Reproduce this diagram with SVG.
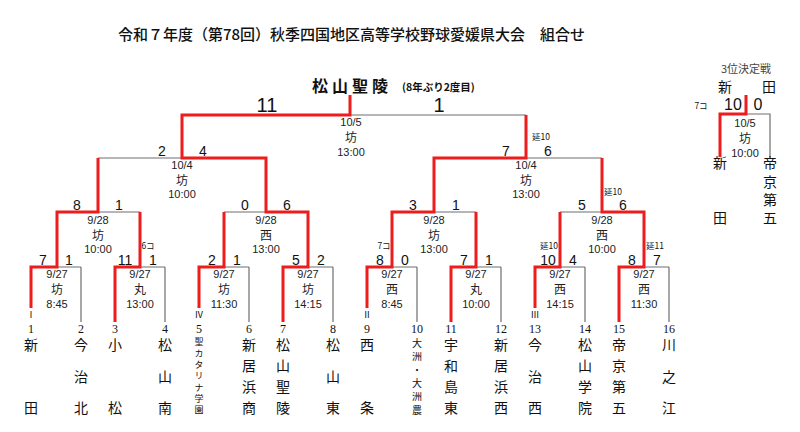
<svg xmlns="http://www.w3.org/2000/svg" width="800" height="432" viewBox="0 0 800 432">
<style>
.g{stroke:#6e6e6e;stroke-width:1.2;fill:none}
.r{stroke:#ee1c1c;stroke-width:3;fill:none;stroke-linejoin:miter;stroke-linecap:butt}
text{font-family:"Noto Sans CJK JP","Liberation Sans",sans-serif;fill:#111}
.title{font-size:15px;font-weight:500}
.champ{font-size:16px;font-weight:bold;letter-spacing:4px}
.sub{font-size:10.5px;font-weight:bold}
.v{writing-mode:vertical-rl;font-size:14px}
.v2{letter-spacing:49px}
.v3{letter-spacing:17.5px}
.v4{letter-spacing:7px}
.e{letter-spacing:0}
.sm9{writing-mode:vertical-rl;font-size:9px;letter-spacing:2.3px}
.sm10{writing-mode:vertical-rl;font-size:10px;letter-spacing:3.4px}
.nm{font-size:14px;text-anchor:middle}
.num{font-family:"Liberation Serif","Noto Sans CJK JP",serif;font-size:12px;text-anchor:middle}
.rom{font-family:"Liberation Serif","Noto Sans CJK JP",serif;font-size:9px;text-anchor:middle}
.sc{font-family:"Liberation Sans","Noto Sans CJK JP",sans-serif;font-size:14px;text-anchor:middle}
.scf{font-family:"Liberation Sans","Noto Sans CJK JP",sans-serif;font-size:20px;text-anchor:middle}
.sc3{font-family:"Liberation Sans","Noto Sans CJK JP",sans-serif;font-size:16px;text-anchor:middle}
.dt{font-family:"Liberation Sans","Noto Sans CJK JP",sans-serif;font-size:11px;text-anchor:middle;fill:#222}
.vn{font-family:"Noto Sans CJK JP",sans-serif;font-size:12px}
.note{font-size:8.5px;text-anchor:middle}
.lbl{font-size:11px;text-anchor:middle;fill:#444}
</style>

<text class="title" x="118" y="40">令和７年度（第78回）秋季四国地区高等学校野球愛媛県大会　組合せ</text>

<g id="champion">
<text class="champ" x="312" y="92">松山聖陵</text>
<text class="sub" x="402" y="90.8">(8年ぶり2度目)</text>
</g>

<g id="connectors">
<path class="g" d="M81,267V322 M165,267V322 M249,267V322 M333,267V322 M417,267V322 M501,267V322 M585,267V322 M669,267V322"/>
<path class="g" d="M57,267H81 M140,267H165 M224,267H249 M308,267H333 M392,267H417 M476,267H501 M560,267H585 M644,267H669"/>
<path class="g" d="M98,212H140 M224,212H266 M434,212H476 M560,212H602"/>
<path class="g" d="M98,158H182 M526,158H602 M350,115H526"/>
<path class="g" d="M746,114H770V157"/>
<polyline class="r" points="31,308 31,267 57,267 57,212 98,212 98,158"/>
<polyline class="r" points="115,322 115,267 140,267 140,212"/>
<polyline class="r" points="199,308 199,267 224,267 224,212"/>
<polyline class="r" points="283,322 283,267 308,267 308,212 266,212 266,158 182,158 182,115 350,115 350,95"/>
<polyline class="r" points="367,308 367,267 392,267 392,212 434,212 434,158 526,158 526,115"/>
<polyline class="r" points="451,322 451,267 476,267 476,212"/>
<polyline class="r" points="535,308 535,267 560,267 560,212"/>
<polyline class="r" points="619,322 619,267 644,267 644,212 602,212 602,158"/>
<polyline class="r" points="746,95 746,114 720,114 720,157"/>
</g>

<g id="scores">
<text class="sc" x="43" y="265">7</text><text class="sc" x="69" y="265">1</text>
<text class="sc" x="125" y="265">11</text><text class="sc" x="153" y="265">1</text>
<text class="sc" x="212" y="265">2</text><text class="sc" x="237" y="265">1</text>
<text class="sc" x="296" y="265">5</text><text class="sc" x="321" y="265">2</text>
<text class="sc" x="380" y="265">8</text><text class="sc" x="405" y="265">0</text>
<text class="sc" x="464" y="265">7</text><text class="sc" x="489" y="265">1</text>
<text class="sc" x="548" y="265">10</text><text class="sc" x="573" y="265">4</text>
<text class="sc" x="632" y="265">8</text><text class="sc" x="657" y="265">7</text>
<text class="sc" x="77" y="210">8</text><text class="sc" x="119" y="210">1</text>
<text class="sc" x="245" y="210">0</text><text class="sc" x="287" y="210">6</text>
<text class="sc" x="413" y="210">3</text><text class="sc" x="456" y="210">1</text>
<text class="sc" x="582" y="210">5</text><text class="sc" x="623" y="210">6</text>
<text class="sc" x="162" y="156">2</text><text class="sc" x="203" y="156">4</text>
<text class="sc" x="506" y="156">7</text><text class="sc" x="548" y="156">6</text>
<text class="scf" x="267" y="112">11</text><text class="scf" x="439" y="112">1</text>
<text class="sc3" x="733" y="110">10</text><text class="sc3" x="758" y="110">0</text>
</g>

<g id="notes">
<text class="note" x="148" y="249">6コ</text>
<text class="note" x="384" y="249">7コ</text>
<text class="note" x="549" y="249">延10</text>
<text class="note" x="655" y="249">延11</text>
<text class="note" x="613" y="194.5">延10</text>
<text class="note" x="541" y="140">延10</text>
<text class="note" x="701" y="109">7コ</text>
</g>

<g id="m1"><text class="dt" x="57" y="278">9/27<tspan class="vn" x="57" y="294.3">坊</tspan><tspan x="57" y="307.8">8:45</tspan></text></g>
<g id="m2"><text class="dt" x="140" y="278">9/27<tspan class="vn" x="140" y="294.3">丸</tspan><tspan x="140" y="307.8">13:00</tspan></text></g>
<g id="m3"><text class="dt" x="224" y="278">9/27<tspan class="vn" x="224" y="294.3">坊</tspan><tspan x="224" y="307.8">11:30</tspan></text></g>
<g id="m4"><text class="dt" x="308" y="278">9/27<tspan class="vn" x="308" y="294.3">坊</tspan><tspan x="308" y="307.8">14:15</tspan></text></g>
<g id="m5"><text class="dt" x="392" y="278">9/27<tspan class="vn" x="392" y="294.3">西</tspan><tspan x="392" y="307.8">8:45</tspan></text></g>
<g id="m6"><text class="dt" x="476" y="278">9/27<tspan class="vn" x="476" y="294.3">丸</tspan><tspan x="476" y="307.8">10:00</tspan></text></g>
<g id="m7"><text class="dt" x="560" y="278">9/27<tspan class="vn" x="560" y="294.3">西</tspan><tspan x="560" y="307.8">14:15</tspan></text></g>
<g id="m8"><text class="dt" x="644" y="278">9/27<tspan class="vn" x="644" y="294.3">西</tspan><tspan x="644" y="307.8">11:30</tspan></text></g>
<g id="m9"><text class="dt" x="98" y="223.5">9/28<tspan class="vn" x="98" y="239.8">坊</tspan><tspan x="98" y="253.3">10:00</tspan></text></g>
<g id="m10"><text class="dt" x="266" y="223.5">9/28<tspan class="vn" x="266" y="239.8">西</tspan><tspan x="266" y="253.3">13:00</tspan></text></g>
<g id="m11"><text class="dt" x="434" y="223.5">9/28<tspan class="vn" x="434" y="239.8">坊</tspan><tspan x="434" y="253.3">13:00</tspan></text></g>
<g id="m12"><text class="dt" x="602" y="223.5">9/28<tspan class="vn" x="602" y="239.8">西</tspan><tspan x="602" y="253.3">10:00</tspan></text></g>
<g id="m13"><text class="dt" x="182" y="168.5">10/4<tspan class="vn" x="182" y="184.8">坊</tspan><tspan x="182" y="198.3">10:00</tspan></text></g>
<g id="m14"><text class="dt" x="526" y="168.5">10/4<tspan class="vn" x="526" y="184.8">坊</tspan><tspan x="526" y="198.3">13:00</tspan></text></g>
<g id="final"><text class="dt" x="351" y="126">10/5<tspan class="vn" x="351" y="142.3">坊</tspan><tspan x="351" y="155.8">13:00</tspan></text></g>

<g id="third">
<text class="lbl" x="746" y="73">3位決定戦</text>
<text class="nm" x="725" y="91.5">新</text><text class="nm" x="769" y="91.5">田</text>
<text class="dt" x="745" y="127">10/5<tspan class="vn" x="745" y="143.3">坊</tspan><tspan x="745" y="156.8">10:00</tspan></text>
<text class="v" x="720" y="156" style="letter-spacing:41px">新<tspan class="e">田</tspan></text>
<text class="v" x="770" y="156" style="letter-spacing:4.3px">帝京第<tspan class="e">五</tspan></text>
</g>

<g id="t1"><text class="rom" x="31" y="318">Ⅰ</text><text class="num" x="31" y="333">1</text><text class="v v2" x="31" y="338">新<tspan class="e">田</tspan></text></g>
<g id="t2"><text class="num" x="81" y="333">2</text><text class="v v3" x="81" y="338">今治<tspan class="e">北</tspan></text></g>
<g id="t3"><text class="num" x="115" y="333">3</text><text class="v v2" x="115" y="338">小<tspan class="e">松</tspan></text></g>
<g id="t4"><text class="num" x="165" y="333">4</text><text class="v v3" x="165" y="338">松山<tspan class="e">南</tspan></text></g>
<g id="t5"><text class="rom" x="199" y="318">Ⅳ</text><text class="num" x="199" y="333">5</text><text class="sm9" x="199" y="337.5">聖カタリナ学<tspan class="e">園</tspan></text></g>
<g id="t6"><text class="num" x="249" y="333">6</text><text class="v v4" x="249" y="338">新居浜<tspan class="e">商</tspan></text></g>
<g id="t7"><text class="num" x="283" y="333">7</text><text class="v v4" x="283" y="338">松山聖<tspan class="e">陵</tspan></text></g>
<g id="t8"><text class="num" x="333" y="333">8</text><text class="v v3" x="333" y="338">松山<tspan class="e">東</tspan></text></g>
<g id="t9"><text class="rom" x="367" y="318">Ⅱ</text><text class="num" x="367" y="333">9</text><text class="v v2" x="367" y="338">西<tspan class="e">条</tspan></text></g>
<g id="t10"><text class="num" x="417" y="333">10</text><text class="sm10" x="417" y="338">大洲・大洲<tspan class="e">農</tspan></text></g>
<g id="t11"><text class="num" x="451" y="333">11</text><text class="v v4" x="451" y="338">宇和島<tspan class="e">東</tspan></text></g>
<g id="t12"><text class="num" x="501" y="333">12</text><text class="v v4" x="501" y="338">新居浜<tspan class="e">西</tspan></text></g>
<g id="t13"><text class="rom" x="535" y="318">Ⅲ</text><text class="num" x="535" y="333">13</text><text class="v v3" x="535" y="338">今治<tspan class="e">西</tspan></text></g>
<g id="t14"><text class="num" x="585" y="333">14</text><text class="v v4" x="585" y="338">松山学<tspan class="e">院</tspan></text></g>
<g id="t15"><text class="num" x="619" y="333">15</text><text class="v v4" x="619" y="338">帝京第<tspan class="e">五</tspan></text></g>
<g id="t16"><text class="num" x="669" y="333">16</text><text class="v v3" x="669" y="338">川之<tspan class="e">江</tspan></text></g>
</svg>
